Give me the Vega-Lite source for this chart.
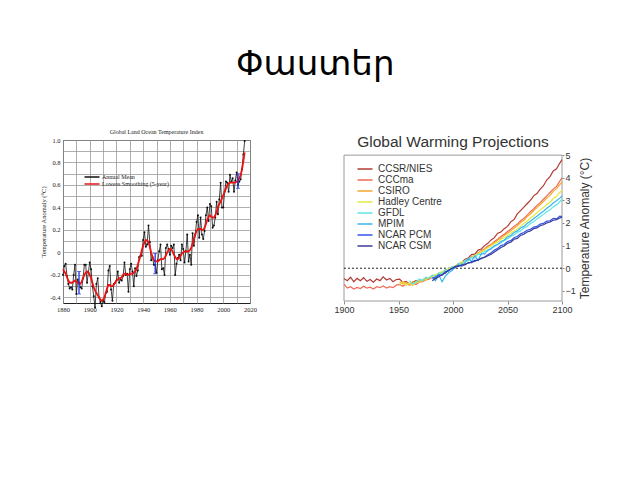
{
  "$schema": "https://vega.github.io/schema/vega-lite/v6.json",
  "padding": {"left": 40, "top": 47, "right": 5, "bottom": 5},
  "spacing": 76,
  "background": "white",
  "title": {"text": "Փաստեր", "fontSize": 34, "font": "DejaVu Sans", "fontWeight": "normal", "color": "#000", "anchor": "middle", "offset": 47},
  "config": {"view": {"stroke": null}},
  "resolve": {"scale": {"x": "independent", "y": "independent", "color": "independent"}, "legend": {"color": "independent"}, "axis": {"x": "independent", "y": "independent"}},
  "datasets": {
    "giss": [
      {"y":1880,"a":-0.20,"s":-0.15},{"y":1881,"a":-0.12,"s":-0.17},{"y":1882,"a":-0.10,"s":-0.19},{"y":1883,"a":-0.21,"s":-0.22},{"y":1884,"a":-0.28,"s":-0.25},
      {"y":1885,"a":-0.32,"s":-0.27},{"y":1886,"a":-0.31,"s":-0.27},{"y":1887,"a":-0.33,"s":-0.27},{"y":1888,"a":-0.20,"s":-0.26},{"y":1889,"a":-0.11,"s":-0.25},
      {"y":1890,"a":-0.37,"s":-0.26},{"y":1891,"a":-0.24,"s":-0.27},{"y":1892,"a":-0.27,"s":-0.28},{"y":1893,"a":-0.31,"s":-0.28},{"y":1894,"a":-0.32,"s":-0.26},
      {"y":1895,"a":-0.23,"s":-0.23},{"y":1896,"a":-0.11,"s":-0.20},{"y":1897,"a":-0.11,"s":-0.18},{"y":1898,"a":-0.27,"s":-0.17},{"y":1899,"a":-0.18,"s":-0.18},
      {"y":1900,"a":-0.09,"s":-0.20},{"y":1901,"a":-0.15,"s":-0.23},{"y":1902,"a":-0.30,"s":-0.27},{"y":1903,"a":-0.39,"s":-0.31},{"y":1904,"a":-0.49,"s":-0.34},
      {"y":1905,"a":-0.28,"s":-0.36},{"y":1906,"a":-0.23,"s":-0.38},{"y":1907,"a":-0.40,"s":-0.40},{"y":1908,"a":-0.44,"s":-0.42},{"y":1909,"a":-0.48,"s":-0.43},
      {"y":1910,"a":-0.43,"s":-0.42},{"y":1911,"a":-0.44,"s":-0.40},{"y":1912,"a":-0.36,"s":-0.36},{"y":1913,"a":-0.35,"s":-0.32},{"y":1914,"a":-0.16,"s":-0.29},
      {"y":1915,"a":-0.12,"s":-0.29},{"y":1916,"a":-0.33,"s":-0.30},{"y":1917,"a":-0.43,"s":-0.30},{"y":1918,"a":-0.28,"s":-0.29},{"y":1919,"a":-0.27,"s":-0.27},
      {"y":1920,"a":-0.25,"s":-0.25},{"y":1921,"a":-0.17,"s":-0.24},{"y":1922,"a":-0.27,"s":-0.23},{"y":1923,"a":-0.24,"s":-0.23},{"y":1924,"a":-0.25,"s":-0.22},
      {"y":1925,"a":-0.21,"s":-0.20},{"y":1926,"a":-0.09,"s":-0.19},{"y":1927,"a":-0.20,"s":-0.19},{"y":1928,"a":-0.19,"s":-0.20},{"y":1929,"a":-0.35,"s":-0.20},
      {"y":1930,"a":-0.15,"s":-0.19},{"y":1931,"a":-0.10,"s":-0.19},{"y":1932,"a":-0.17,"s":-0.19},{"y":1933,"a":-0.30,"s":-0.18},{"y":1934,"a":-0.14,"s":-0.17},
      {"y":1935,"a":-0.21,"s":-0.15},{"y":1936,"a":-0.16,"s":-0.11},{"y":1937,"a":-0.04,"s":-0.07},{"y":1938,"a":-0.03,"s":-0.03},{"y":1939,"a":-0.03,"s":0.02},
      {"y":1940,"a":0.11,"s":0.06},{"y":1941,"a":0.18,"s":0.09},{"y":1942,"a":0.05,"s":0.11},{"y":1943,"a":0.07,"s":0.11},{"y":1944,"a":0.24,"s":0.09},
      {"y":1945,"a":0.09,"s":0.05},{"y":1946,"a":-0.07,"s":0.00},{"y":1947,"a":-0.04,"s":-0.04},{"y":1948,"a":-0.11,"s":-0.07},{"y":1949,"a":-0.11,"s":-0.08},
      {"y":1950,"a":-0.18,"s":-0.08},{"y":1951,"a":-0.07,"s":-0.08},{"y":1952,"a":0.01,"s":-0.07},{"y":1953,"a":0.07,"s":-0.06},{"y":1954,"a":-0.15,"s":-0.06},
      {"y":1955,"a":-0.14,"s":-0.06},{"y":1956,"a":-0.20,"s":-0.05},{"y":1957,"a":0.04,"s":-0.03},{"y":1958,"a":0.07,"s":0.00},{"y":1959,"a":0.03,"s":0.02},
      {"y":1960,"a":-0.02,"s":0.03},{"y":1961,"a":0.06,"s":0.03},{"y":1962,"a":0.04,"s":0.01},{"y":1963,"a":0.07,"s":-0.02},{"y":1964,"a":-0.20,"s":-0.04},
      {"y":1965,"a":-0.10,"s":-0.06},{"y":1966,"a":-0.05,"s":-0.06},{"y":1967,"a":-0.02,"s":-0.05},{"y":1968,"a":-0.07,"s":-0.03},{"y":1969,"a":0.07,"s":-0.01},
      {"y":1970,"a":0.03,"s":0.00},{"y":1971,"a":-0.09,"s":0.01},{"y":1972,"a":0.01,"s":0.01},{"y":1973,"a":0.16,"s":0.01},{"y":1974,"a":-0.08,"s":0.01},
      {"y":1975,"a":-0.02,"s":0.02},{"y":1976,"a":-0.11,"s":0.04},{"y":1977,"a":0.17,"s":0.08},{"y":1978,"a":0.06,"s":0.12},{"y":1979,"a":0.16,"s":0.16},
      {"y":1980,"a":0.27,"s":0.19},{"y":1981,"a":0.33,"s":0.21},{"y":1982,"a":0.13,"s":0.21},{"y":1983,"a":0.31,"s":0.21},{"y":1984,"a":0.16,"s":0.20},
      {"y":1985,"a":0.12,"s":0.20},{"y":1986,"a":0.19,"s":0.22},{"y":1987,"a":0.33,"s":0.25},{"y":1988,"a":0.40,"s":0.29},{"y":1989,"a":0.28,"s":0.32},
      {"y":1990,"a":0.43,"s":0.33},{"y":1991,"a":0.41,"s":0.32},{"y":1992,"a":0.22,"s":0.31},{"y":1993,"a":0.24,"s":0.31},{"y":1994,"a":0.31,"s":0.33},
      {"y":1995,"a":0.45,"s":0.36},{"y":1996,"a":0.34,"s":0.40},{"y":1997,"a":0.47,"s":0.43},{"y":1998,"a":0.62,"s":0.45},{"y":1999,"a":0.40,"s":0.48},
      {"y":2000,"a":0.40,"s":0.51},{"y":2001,"a":0.54,"s":0.54},{"y":2002,"a":0.63,"s":0.57},{"y":2003,"a":0.62,"s":0.60},{"y":2004,"a":0.54,"s":0.61},
      {"y":2005,"a":0.69,"s":0.62},{"y":2006,"a":0.63,"s":0.62},{"y":2007,"a":0.66,"s":0.62},{"y":2008,"a":0.54,"s":0.62},{"y":2009,"a":0.64,"s":0.62},
      {"y":2010,"a":0.71,"s":0.63},{"y":2011,"a":0.60,"s":0.64},{"y":2012,"a":0.63,"s":0.66},{"y":2013,"a":0.65,"s":0.69},{"y":2014,"a":0.74,"s":0.74},
      {"y":2015,"a":0.87,"s":0.81},{"y":2016,"a":0.99,"s":0.89}
    ],
    "unc": [
      {"y":1892,"lo":-0.37,"hi":-0.17},{"y":1949,"lo":-0.19,"hi":-0.01},{"y":2011,"lo":0.57,"hi":0.70}
    ],
    "one": [{}],
    "proj": [
      {"m":"CCSR/NIES","y":1900,"t":-0.45},{"m":"CCSR/NIES","y":1903,"t":-0.55},{"m":"CCSR/NIES","y":1906,"t":-0.40},{"m":"CCSR/NIES","y":1909,"t":-0.60},{"m":"CCSR/NIES","y":1912,"t":-0.45},{"m":"CCSR/NIES","y":1915,"t":-0.55},{"m":"CCSR/NIES","y":1918,"t":-0.42},{"m":"CCSR/NIES","y":1921,"t":-0.58},{"m":"CCSR/NIES","y":1924,"t":-0.50},{"m":"CCSR/NIES","y":1927,"t":-0.62},{"m":"CCSR/NIES","y":1930,"t":-0.48},{"m":"CCSR/NIES","y":1933,"t":-0.55},{"m":"CCSR/NIES","y":1936,"t":-0.38},{"m":"CCSR/NIES","y":1939,"t":-0.52},{"m":"CCSR/NIES","y":1942,"t":-0.45},{"m":"CCSR/NIES","y":1945,"t":-0.60},{"m":"CCSR/NIES","y":1948,"t":-0.50},{"m":"CCSR/NIES","y":1951,"t":-0.48},{"m":"CCSR/NIES","y":1954,"t":-0.62},{"m":"CCSR/NIES","y":1957,"t":-0.58},{"m":"CCSR/NIES","y":1960,"t":-0.70},{"m":"CCSR/NIES","y":1963,"t":-0.62},{"m":"CCSR/NIES","y":1966,"t":-0.55},{"m":"CCSR/NIES","y":1969,"t":-0.60},{"m":"CCSR/NIES","y":1972,"t":-0.50},{"m":"CCSR/NIES","y":1975,"t":-0.48},{"m":"CCSR/NIES","y":1978,"t":-0.42},{"m":"CCSR/NIES","y":1981,"t":-0.40},{"m":"CCSR/NIES","y":1984,"t":-0.32},{"m":"CCSR/NIES","y":1987,"t":-0.28},{"m":"CCSR/NIES","y":1990,"t":-0.18},{"m":"CCSR/NIES","y":1993,"t":-0.15},{"m":"CCSR/NIES","y":1996,"t":-0.05},{"m":"CCSR/NIES","y":1999,"t":0.00},{"m":"CCSR/NIES","y":2002,"t":0.05},{"m":"CCSR/NIES","y":2005,"t":0.20},{"m":"CCSR/NIES","y":2008,"t":0.25},{"m":"CCSR/NIES","y":2011,"t":0.40},{"m":"CCSR/NIES","y":2014,"t":0.45},{"m":"CCSR/NIES","y":2017,"t":0.60},{"m":"CCSR/NIES","y":2020,"t":0.62},{"m":"CCSR/NIES","y":2023,"t":0.80},{"m":"CCSR/NIES","y":2026,"t":0.85},{"m":"CCSR/NIES","y":2029,"t":1.00},{"m":"CCSR/NIES","y":2032,"t":1.10},{"m":"CCSR/NIES","y":2035,"t":1.25},{"m":"CCSR/NIES","y":2038,"t":1.35},{"m":"CCSR/NIES","y":2041,"t":1.55},{"m":"CCSR/NIES","y":2044,"t":1.60},{"m":"CCSR/NIES","y":2047,"t":1.75},{"m":"CCSR/NIES","y":2050,"t":1.85},{"m":"CCSR/NIES","y":2053,"t":2.05},{"m":"CCSR/NIES","y":2056,"t":2.15},{"m":"CCSR/NIES","y":2059,"t":2.40},{"m":"CCSR/NIES","y":2062,"t":2.55},{"m":"CCSR/NIES","y":2065,"t":2.70},{"m":"CCSR/NIES","y":2068,"t":2.85},{"m":"CCSR/NIES","y":2071,"t":3.00},{"m":"CCSR/NIES","y":2074,"t":3.20},{"m":"CCSR/NIES","y":2077,"t":3.30},{"m":"CCSR/NIES","y":2080,"t":3.50},{"m":"CCSR/NIES","y":2083,"t":3.65},{"m":"CCSR/NIES","y":2086,"t":3.90},{"m":"CCSR/NIES","y":2089,"t":4.05},{"m":"CCSR/NIES","y":2092,"t":4.30},{"m":"CCSR/NIES","y":2095,"t":4.40},{"m":"CCSR/NIES","y":2098,"t":4.65},{"m":"CCSR/NIES","y":2100,"t":4.80},
      {"m":"CCCma","y":1900,"t":-0.70},{"m":"CCCma","y":1903,"t":-0.88},{"m":"CCCma","y":1906,"t":-0.82},{"m":"CCCma","y":1909,"t":-0.92},{"m":"CCCma","y":1912,"t":-0.85},{"m":"CCCma","y":1915,"t":-0.90},{"m":"CCCma","y":1918,"t":-0.80},{"m":"CCCma","y":1921,"t":-0.88},{"m":"CCCma","y":1924,"t":-0.84},{"m":"CCCma","y":1927,"t":-0.92},{"m":"CCCma","y":1930,"t":-0.82},{"m":"CCCma","y":1933,"t":-0.86},{"m":"CCCma","y":1936,"t":-0.78},{"m":"CCCma","y":1939,"t":-0.88},{"m":"CCCma","y":1942,"t":-0.82},{"m":"CCCma","y":1945,"t":-0.86},{"m":"CCCma","y":1948,"t":-0.75},{"m":"CCCma","y":1951,"t":-0.72},{"m":"CCCma","y":1954,"t":-0.80},{"m":"CCCma","y":1957,"t":-0.70},{"m":"CCCma","y":1960,"t":-0.75},{"m":"CCCma","y":1963,"t":-0.68},{"m":"CCCma","y":1966,"t":-0.72},{"m":"CCCma","y":1969,"t":-0.62},{"m":"CCCma","y":1972,"t":-0.60},{"m":"CCCma","y":1975,"t":-0.52},{"m":"CCCma","y":1978,"t":-0.48},{"m":"CCCma","y":1981,"t":-0.40},{"m":"CCCma","y":1984,"t":-0.35},{"m":"CCCma","y":1987,"t":-0.25},{"m":"CCCma","y":1990,"t":-0.22},{"m":"CCCma","y":1993,"t":-0.12},{"m":"CCCma","y":1996,"t":-0.08},{"m":"CCCma","y":1999,"t":0.02},{"m":"CCCma","y":2002,"t":0.05},{"m":"CCCma","y":2005,"t":0.18},{"m":"CCCma","y":2008,"t":0.22},{"m":"CCCma","y":2011,"t":0.32},{"m":"CCCma","y":2014,"t":0.40},{"m":"CCCma","y":2017,"t":0.48},{"m":"CCCma","y":2020,"t":0.55},{"m":"CCCma","y":2023,"t":0.65},{"m":"CCCma","y":2026,"t":0.78},{"m":"CCCma","y":2029,"t":0.85},{"m":"CCCma","y":2032,"t":0.98},{"m":"CCCma","y":2035,"t":1.05},{"m":"CCCma","y":2038,"t":1.18},{"m":"CCCma","y":2041,"t":1.28},{"m":"CCCma","y":2044,"t":1.40},{"m":"CCCma","y":2047,"t":1.50},{"m":"CCCma","y":2050,"t":1.62},{"m":"CCCma","y":2053,"t":1.72},{"m":"CCCma","y":2056,"t":1.85},{"m":"CCCma","y":2059,"t":1.95},{"m":"CCCma","y":2062,"t":2.10},{"m":"CCCma","y":2065,"t":2.20},{"m":"CCCma","y":2068,"t":2.35},{"m":"CCCma","y":2071,"t":2.50},{"m":"CCCma","y":2074,"t":2.62},{"m":"CCCma","y":2077,"t":2.78},{"m":"CCCma","y":2080,"t":2.90},{"m":"CCCma","y":2083,"t":3.05},{"m":"CCCma","y":2086,"t":3.20},{"m":"CCCma","y":2089,"t":3.35},{"m":"CCCma","y":2092,"t":3.50},{"m":"CCCma","y":2095,"t":3.62},{"m":"CCCma","y":2098,"t":3.85},{"m":"CCCma","y":2100,"t":4.00},
      {"m":"CSIRO","y":1951,"t":-0.60},{"m":"CSIRO","y":1954,"t":-0.70},{"m":"CSIRO","y":1957,"t":-0.62},{"m":"CSIRO","y":1960,"t":-0.72},{"m":"CSIRO","y":1963,"t":-0.60},{"m":"CSIRO","y":1966,"t":-0.65},{"m":"CSIRO","y":1969,"t":-0.55},{"m":"CSIRO","y":1972,"t":-0.58},{"m":"CSIRO","y":1975,"t":-0.45},{"m":"CSIRO","y":1978,"t":-0.42},{"m":"CSIRO","y":1981,"t":-0.35},{"m":"CSIRO","y":1984,"t":-0.30},{"m":"CSIRO","y":1987,"t":-0.22},{"m":"CSIRO","y":1990,"t":-0.18},{"m":"CSIRO","y":1993,"t":-0.10},{"m":"CSIRO","y":1996,"t":-0.05},{"m":"CSIRO","y":1999,"t":0.05},{"m":"CSIRO","y":2002,"t":0.08},{"m":"CSIRO","y":2005,"t":0.20},{"m":"CSIRO","y":2008,"t":0.22},{"m":"CSIRO","y":2011,"t":0.35},{"m":"CSIRO","y":2014,"t":0.38},{"m":"CSIRO","y":2017,"t":0.50},{"m":"CSIRO","y":2020,"t":0.55},{"m":"CSIRO","y":2023,"t":0.68},{"m":"CSIRO","y":2026,"t":0.72},{"m":"CSIRO","y":2029,"t":0.85},{"m":"CSIRO","y":2032,"t":0.92},{"m":"CSIRO","y":2035,"t":1.05},{"m":"CSIRO","y":2038,"t":1.12},{"m":"CSIRO","y":2041,"t":1.25},{"m":"CSIRO","y":2044,"t":1.32},{"m":"CSIRO","y":2047,"t":1.45},{"m":"CSIRO","y":2050,"t":1.55},{"m":"CSIRO","y":2053,"t":1.65},{"m":"CSIRO","y":2056,"t":1.78},{"m":"CSIRO","y":2059,"t":1.88},{"m":"CSIRO","y":2062,"t":2.02},{"m":"CSIRO","y":2065,"t":2.12},{"m":"CSIRO","y":2068,"t":2.28},{"m":"CSIRO","y":2071,"t":2.40},{"m":"CSIRO","y":2074,"t":2.55},{"m":"CSIRO","y":2077,"t":2.68},{"m":"CSIRO","y":2080,"t":2.82},{"m":"CSIRO","y":2083,"t":2.95},{"m":"CSIRO","y":2086,"t":3.10},{"m":"CSIRO","y":2089,"t":3.22},{"m":"CSIRO","y":2092,"t":3.40},{"m":"CSIRO","y":2095,"t":3.52},{"m":"CSIRO","y":2098,"t":3.70},{"m":"CSIRO","y":2100,"t":3.80},
      {"m":"Hadley Centre","y":1951,"t":-0.72},{"m":"Hadley Centre","y":1954,"t":-0.60},{"m":"Hadley Centre","y":1957,"t":-0.75},{"m":"Hadley Centre","y":1960,"t":-0.65},{"m":"Hadley Centre","y":1963,"t":-0.78},{"m":"Hadley Centre","y":1966,"t":-0.60},{"m":"Hadley Centre","y":1969,"t":-0.62},{"m":"Hadley Centre","y":1972,"t":-0.50},{"m":"Hadley Centre","y":1975,"t":-0.52},{"m":"Hadley Centre","y":1978,"t":-0.40},{"m":"Hadley Centre","y":1981,"t":-0.38},{"m":"Hadley Centre","y":1984,"t":-0.28},{"m":"Hadley Centre","y":1987,"t":-0.25},{"m":"Hadley Centre","y":1990,"t":-0.15},{"m":"Hadley Centre","y":1993,"t":-0.12},{"m":"Hadley Centre","y":1996,"t":-0.02},{"m":"Hadley Centre","y":1999,"t":0.02},{"m":"Hadley Centre","y":2002,"t":0.12},{"m":"Hadley Centre","y":2005,"t":0.15},{"m":"Hadley Centre","y":2008,"t":0.28},{"m":"Hadley Centre","y":2011,"t":0.30},{"m":"Hadley Centre","y":2014,"t":0.42},{"m":"Hadley Centre","y":2017,"t":0.45},{"m":"Hadley Centre","y":2020,"t":0.58},{"m":"Hadley Centre","y":2023,"t":0.62},{"m":"Hadley Centre","y":2026,"t":0.75},{"m":"Hadley Centre","y":2029,"t":0.80},{"m":"Hadley Centre","y":2032,"t":0.92},{"m":"Hadley Centre","y":2035,"t":0.98},{"m":"Hadley Centre","y":2038,"t":1.10},{"m":"Hadley Centre","y":2041,"t":1.15},{"m":"Hadley Centre","y":2044,"t":1.28},{"m":"Hadley Centre","y":2047,"t":1.35},{"m":"Hadley Centre","y":2050,"t":1.45},{"m":"Hadley Centre","y":2053,"t":1.55},{"m":"Hadley Centre","y":2056,"t":1.65},{"m":"Hadley Centre","y":2059,"t":1.75},{"m":"Hadley Centre","y":2062,"t":1.85},{"m":"Hadley Centre","y":2065,"t":1.98},{"m":"Hadley Centre","y":2068,"t":2.08},{"m":"Hadley Centre","y":2071,"t":2.22},{"m":"Hadley Centre","y":2074,"t":2.32},{"m":"Hadley Centre","y":2077,"t":2.45},{"m":"Hadley Centre","y":2080,"t":2.58},{"m":"Hadley Centre","y":2083,"t":2.68},{"m":"Hadley Centre","y":2086,"t":2.82},{"m":"Hadley Centre","y":2089,"t":2.92},{"m":"Hadley Centre","y":2092,"t":3.08},{"m":"Hadley Centre","y":2095,"t":3.18},{"m":"Hadley Centre","y":2098,"t":3.35},{"m":"Hadley Centre","y":2100,"t":3.45},
      {"m":"GFDL","y":1960,"t":-0.55},{"m":"GFDL","y":1963,"t":-0.70},{"m":"GFDL","y":1966,"t":-0.62},{"m":"GFDL","y":1969,"t":-0.48},{"m":"GFDL","y":1972,"t":-0.55},{"m":"GFDL","y":1975,"t":-0.40},{"m":"GFDL","y":1978,"t":-0.45},{"m":"GFDL","y":1981,"t":-0.30},{"m":"GFDL","y":1984,"t":-0.38},{"m":"GFDL","y":1987,"t":-0.20},{"m":"GFDL","y":1990,"t":-0.25},{"m":"GFDL","y":1993,"t":-0.05},{"m":"GFDL","y":1996,"t":-0.12},{"m":"GFDL","y":1999,"t":0.08},{"m":"GFDL","y":2002,"t":0.02},{"m":"GFDL","y":2005,"t":0.22},{"m":"GFDL","y":2008,"t":0.15},{"m":"GFDL","y":2011,"t":0.35},{"m":"GFDL","y":2014,"t":0.32},{"m":"GFDL","y":2017,"t":0.48},{"m":"GFDL","y":2020,"t":0.45},{"m":"GFDL","y":2023,"t":0.62},{"m":"GFDL","y":2026,"t":0.60},{"m":"GFDL","y":2029,"t":0.75},{"m":"GFDL","y":2032,"t":0.78},{"m":"GFDL","y":2035,"t":0.90},{"m":"GFDL","y":2038,"t":0.95},{"m":"GFDL","y":2041,"t":1.05},{"m":"GFDL","y":2044,"t":1.12},{"m":"GFDL","y":2047,"t":1.22},{"m":"GFDL","y":2050,"t":1.30},{"m":"GFDL","y":2053,"t":1.40},{"m":"GFDL","y":2056,"t":1.48},{"m":"GFDL","y":2059,"t":1.58},{"m":"GFDL","y":2062,"t":1.65},{"m":"GFDL","y":2065,"t":1.78},{"m":"GFDL","y":2068,"t":1.85},{"m":"GFDL","y":2071,"t":1.98},{"m":"GFDL","y":2074,"t":2.05},{"m":"GFDL","y":2077,"t":2.18},{"m":"GFDL","y":2080,"t":2.28},{"m":"GFDL","y":2083,"t":2.38},{"m":"GFDL","y":2086,"t":2.50},{"m":"GFDL","y":2089,"t":2.58},{"m":"GFDL","y":2092,"t":2.72},{"m":"GFDL","y":2095,"t":2.80},{"m":"GFDL","y":2098,"t":2.95},{"m":"GFDL","y":2100,"t":3.05},
      {"m":"MPIM","y":1981,"t":-0.40},{"m":"MPIM","y":1984,"t":-0.55},{"m":"MPIM","y":1987,"t":-0.30},{"m":"MPIM","y":1990,"t":-0.60},{"m":"MPIM","y":1993,"t":-0.35},{"m":"MPIM","y":1996,"t":-0.20},{"m":"MPIM","y":1999,"t":-0.10},{"m":"MPIM","y":2002,"t":0.05},{"m":"MPIM","y":2005,"t":0.15},{"m":"MPIM","y":2008,"t":0.10},{"m":"MPIM","y":2011,"t":0.25},{"m":"MPIM","y":2014,"t":0.45},{"m":"MPIM","y":2017,"t":0.30},{"m":"MPIM","y":2020,"t":0.55},{"m":"MPIM","y":2023,"t":0.35},{"m":"MPIM","y":2026,"t":0.65},{"m":"MPIM","y":2029,"t":0.62},{"m":"MPIM","y":2032,"t":0.80},{"m":"MPIM","y":2035,"t":0.85},{"m":"MPIM","y":2038,"t":1.00},{"m":"MPIM","y":2041,"t":1.05},{"m":"MPIM","y":2044,"t":1.18},{"m":"MPIM","y":2047,"t":1.25},{"m":"MPIM","y":2050,"t":1.38},{"m":"MPIM","y":2053,"t":1.45},{"m":"MPIM","y":2056,"t":1.58},{"m":"MPIM","y":2059,"t":1.65},{"m":"MPIM","y":2062,"t":1.78},{"m":"MPIM","y":2065,"t":1.85},{"m":"MPIM","y":2068,"t":1.98},{"m":"MPIM","y":2071,"t":2.08},{"m":"MPIM","y":2074,"t":2.20},{"m":"MPIM","y":2077,"t":2.30},{"m":"MPIM","y":2080,"t":2.42},{"m":"MPIM","y":2083,"t":2.52},{"m":"MPIM","y":2086,"t":2.65},{"m":"MPIM","y":2089,"t":2.75},{"m":"MPIM","y":2092,"t":2.88},{"m":"MPIM","y":2095,"t":2.98},{"m":"MPIM","y":2098,"t":3.10},{"m":"MPIM","y":2100,"t":3.20},
      {"m":"NCAR PCM","y":1981,"t":-0.45},{"m":"NCAR PCM","y":1984,"t":-0.40},{"m":"NCAR PCM","y":1987,"t":-0.30},{"m":"NCAR PCM","y":1990,"t":-0.32},{"m":"NCAR PCM","y":1993,"t":-0.15},{"m":"NCAR PCM","y":1996,"t":-0.12},{"m":"NCAR PCM","y":1999,"t":0.00},{"m":"NCAR PCM","y":2002,"t":0.02},{"m":"NCAR PCM","y":2005,"t":0.12},{"m":"NCAR PCM","y":2008,"t":0.10},{"m":"NCAR PCM","y":2011,"t":0.18},{"m":"NCAR PCM","y":2014,"t":0.22},{"m":"NCAR PCM","y":2017,"t":0.28},{"m":"NCAR PCM","y":2020,"t":0.30},{"m":"NCAR PCM","y":2023,"t":0.38},{"m":"NCAR PCM","y":2026,"t":0.42},{"m":"NCAR PCM","y":2029,"t":0.50},{"m":"NCAR PCM","y":2032,"t":0.60},{"m":"NCAR PCM","y":2035,"t":0.68},{"m":"NCAR PCM","y":2038,"t":0.80},{"m":"NCAR PCM","y":2041,"t":0.88},{"m":"NCAR PCM","y":2044,"t":1.00},{"m":"NCAR PCM","y":2047,"t":1.05},{"m":"NCAR PCM","y":2050,"t":1.18},{"m":"NCAR PCM","y":2053,"t":1.22},{"m":"NCAR PCM","y":2056,"t":1.35},{"m":"NCAR PCM","y":2059,"t":1.40},{"m":"NCAR PCM","y":2062,"t":1.52},{"m":"NCAR PCM","y":2065,"t":1.58},{"m":"NCAR PCM","y":2068,"t":1.68},{"m":"NCAR PCM","y":2071,"t":1.72},{"m":"NCAR PCM","y":2074,"t":1.82},{"m":"NCAR PCM","y":2077,"t":1.85},{"m":"NCAR PCM","y":2080,"t":1.95},{"m":"NCAR PCM","y":2083,"t":1.98},{"m":"NCAR PCM","y":2086,"t":2.08},{"m":"NCAR PCM","y":2089,"t":2.10},{"m":"NCAR PCM","y":2092,"t":2.20},{"m":"NCAR PCM","y":2095,"t":2.18},{"m":"NCAR PCM","y":2098,"t":2.30},{"m":"NCAR PCM","y":2100,"t":2.28},
      {"m":"NCAR CSM","y":1981,"t":-0.55},{"m":"NCAR CSM","y":1984,"t":-0.45},{"m":"NCAR CSM","y":1987,"t":-0.38},{"m":"NCAR CSM","y":1990,"t":-0.28},{"m":"NCAR CSM","y":1993,"t":-0.22},{"m":"NCAR CSM","y":1996,"t":-0.08},{"m":"NCAR CSM","y":1999,"t":-0.02},{"m":"NCAR CSM","y":2002,"t":0.08},{"m":"NCAR CSM","y":2005,"t":0.08},{"m":"NCAR CSM","y":2008,"t":0.15},{"m":"NCAR CSM","y":2011,"t":0.15},{"m":"NCAR CSM","y":2014,"t":0.25},{"m":"NCAR CSM","y":2017,"t":0.25},{"m":"NCAR CSM","y":2020,"t":0.35},{"m":"NCAR CSM","y":2023,"t":0.35},{"m":"NCAR CSM","y":2026,"t":0.45},{"m":"NCAR CSM","y":2029,"t":0.48},{"m":"NCAR CSM","y":2032,"t":0.55},{"m":"NCAR CSM","y":2035,"t":0.62},{"m":"NCAR CSM","y":2038,"t":0.72},{"m":"NCAR CSM","y":2041,"t":0.82},{"m":"NCAR CSM","y":2044,"t":0.92},{"m":"NCAR CSM","y":2047,"t":0.98},{"m":"NCAR CSM","y":2050,"t":1.10},{"m":"NCAR CSM","y":2053,"t":1.15},{"m":"NCAR CSM","y":2056,"t":1.28},{"m":"NCAR CSM","y":2059,"t":1.32},{"m":"NCAR CSM","y":2062,"t":1.45},{"m":"NCAR CSM","y":2065,"t":1.50},{"m":"NCAR CSM","y":2068,"t":1.60},{"m":"NCAR CSM","y":2071,"t":1.65},{"m":"NCAR CSM","y":2074,"t":1.75},{"m":"NCAR CSM","y":2077,"t":1.78},{"m":"NCAR CSM","y":2080,"t":1.88},{"m":"NCAR CSM","y":2083,"t":1.92},{"m":"NCAR CSM","y":2086,"t":2.00},{"m":"NCAR CSM","y":2089,"t":2.05},{"m":"NCAR CSM","y":2092,"t":2.12},{"m":"NCAR CSM","y":2095,"t":2.15},{"m":"NCAR CSM","y":2098,"t":2.22},{"m":"NCAR CSM","y":2100,"t":2.25}
    ]
  },
  "hconcat": [
    {
      "width": 187,
      "height": 163,
      "view": {"stroke": "#222", "strokeWidth": 1},
      "title": {"text": "Global Land Ocean Temperature Index", "fontSize": 6, "font": "Liberation Serif", "fontWeight": "normal", "color": "#222", "offset": 2},
      "layer": [
        {
          "data": {"name": "giss"},
          "mark": {"type": "line", "strokeWidth": 0.8, "point": {"filled": true, "size": 4}},
          "encoding": {
            "x": {"field": "y", "type": "quantitative", "scale": {"domain": [1880, 2020], "nice": false, "zero": false},
              "axis": {"title": null, "values": [1880,1890,1900,1910,1920,1930,1940,1950,1960,1970,1980,1990,2000,2010,2020], "tickCount": 50, "format": "d", "labelExpr": "datum.value % 20 == 0 ? datum.label : ''", "grid": true, "gridColor": "#9a9a9a", "gridWidth": 0.8, "ticks": false, "domain": false, "labelFont": "Liberation Serif", "labelFontSize": 6.5, "labelColor": "#222", "labelPadding": 3, "labelOverlap": false, "labelFlush": false}},
            "y": {"field": "a", "type": "quantitative", "scale": {"domain": [-0.45, 1.0], "nice": false, "zero": false},
              "axis": {"title": "Temperature Anomaly (°C)", "values": [-0.4,-0.3,-0.2,-0.1,0,0.1,0.2,0.3,0.4,0.5,0.6,0.7,0.8,0.9,1.0], "tickCount": 50, "labelExpr": "round(datum.value*10) % 2 == 0 ? (datum.value == 0 ? '0' : replace(format(datum.value, '.1f'), '−', '-')) : ''", "grid": true, "gridColor": "#9a9a9a", "gridWidth": 0.8, "ticks": false, "domain": false, "labelFont": "Liberation Serif", "labelFontSize": 6.5, "labelColor": "#222", "labelPadding": 3, "labelOverlap": false, "labelFlush": false, "titleFont": "Liberation Serif", "titleFontSize": 6.5, "titleFontWeight": "normal", "titleColor": "#222", "titleAngle": 270, "titlePadding": 3}},
            "color": {"datum": "Annual Mean", "type": "nominal", "scale": {"domain": ["Annual Mean", "Lowess Smoothing (5-year)"], "range": ["#111111", "#ee1111"]},
              "legend": {"orient": "none", "legendX": 25, "legendY": 33, "title": null, "labelFont": "Liberation Serif", "labelFontSize": 6, "labelColor": "#222", "symbolType": "M-2.5,0H2.5", "symbolSize": 36, "symbolStrokeWidth": 1.5, "labelOffset": 6, "rowPadding": -1, "padding": 0}}
          }
        },
        {
          "data": {"name": "giss"},
          "mark": {"type": "line", "strokeWidth": 1.8},
          "encoding": {
            "x": {"field": "y", "type": "quantitative"},
            "y": {"field": "s", "type": "quantitative"},
            "color": {"datum": "Lowess Smoothing (5-year)", "type": "nominal"}
          }
        },
        {
          "data": {"name": "unc"},
          "mark": {"type": "rule", "color": "#2233dd", "strokeWidth": 1.3},
          "encoding": {
            "x": {"field": "y", "type": "quantitative"},
            "y": {"field": "lo", "type": "quantitative"},
            "y2": {"field": "hi"}
          }
        },
        {
          "data": {"name": "unc"},
          "mark": {"type": "tick", "color": "#2233dd", "orient": "horizontal", "size": 4, "thickness": 1},
          "encoding": {
            "x": {"field": "y", "type": "quantitative"},
            "y": {"field": "lo", "type": "quantitative"}
          }
        },
        {
          "data": {"name": "unc"},
          "mark": {"type": "tick", "color": "#2233dd", "orient": "horizontal", "size": 4, "thickness": 1},
          "encoding": {
            "x": {"field": "y", "type": "quantitative"},
            "y": {"field": "hi", "type": "quantitative"}
          }
        }
      ]
    },
    {
      "width": 218,
      "height": 161,
      "view": {"stroke": null},
      "title": {"text": "Global Warming Projections", "fontSize": 15.5, "font": "Liberation Sans", "fontWeight": "normal", "color": "#333333", "offset": -10.5},
      "layer": [
        {
          "data": {"name": "one"},
          "mark": {"type": "rect", "filled": false, "color": "#9a9a9a", "strokeWidth": 1},
          "encoding": {
            "x": {"datum": 1900, "type": "quantitative"},
            "x2": {"datum": 2100},
            "y": {"datum": -1.45, "type": "quantitative"},
            "y2": {"datum": 5}
          }
        },
        {
          "data": {"name": "one"},
          "mark": {"type": "rule", "strokeDash": [2, 2], "color": "#222222", "strokeWidth": 1},
          "encoding": {"y": {"datum": 0, "type": "quantitative"}}
        },
        {
          "data": {"name": "proj"},
          "mark": {"type": "line", "strokeWidth": 1.2},
          "encoding": {
            "x": {"field": "y", "type": "quantitative", "scale": {"domain": [1900, 2100], "nice": false, "zero": false},
              "axis": {"title": null, "values": [1900, 1950, 2000, 2050, 2100], "tickCount": 50, "format": "d", "grid": false, "tickSize": 3, "tickColor": "#888888", "domain": false, "labelFont": "Liberation Sans", "labelFontSize": 9, "labelColor": "#333333", "labelPadding": 1, "labelOverlap": false, "labelFlush": false}},
            "y": {"field": "t", "type": "quantitative", "scale": {"domain": [-1.45, 5.67], "nice": false, "zero": false},
              "axis": {"orient": "right", "title": "Temperature Anomaly (°C)", "values": [-1, 0, 1, 2, 3, 4, 5], "tickCount": 50, "format": "d", "grid": false, "tickSize": 2, "tickColor": "#888888", "domain": false, "labelFont": "Liberation Sans", "labelFontSize": 9, "labelColor": "#333333", "labelPadding": 1, "labelOverlap": false, "labelFlush": false, "titleFont": "Liberation Sans", "titleFontSize": 12, "titleFontWeight": "normal", "titleColor": "#333333", "titleAngle": 270, "titleBaseline": "top", "titlePadding": 4, "titleY": 88}},
            "color": {"field": "m", "type": "nominal",
              "scale": {"domain": ["CCSR/NIES", "CCCma", "CSIRO", "Hadley Centre", "GFDL", "MPIM", "NCAR PCM", "NCAR CSM"], "range": ["#b23a36", "#f06a55", "#f7a52c", "#e4ea3c", "#5ee6e6", "#3db2f2", "#3153e6", "#3c3c96"]},
              "legend": {"orient": "none", "legendX": 15, "legendY": 23, "title": null, "labelFont": "Liberation Sans", "labelFontSize": 10, "labelColor": "#333333", "symbolType": "M-1.5,0H1.5", "symbolSize": 100, "symbolStrokeWidth": 1.5, "labelOffset": 7, "rowPadding": 0, "padding": 0}}
          }
        }
      ]
    }
  ]
}
